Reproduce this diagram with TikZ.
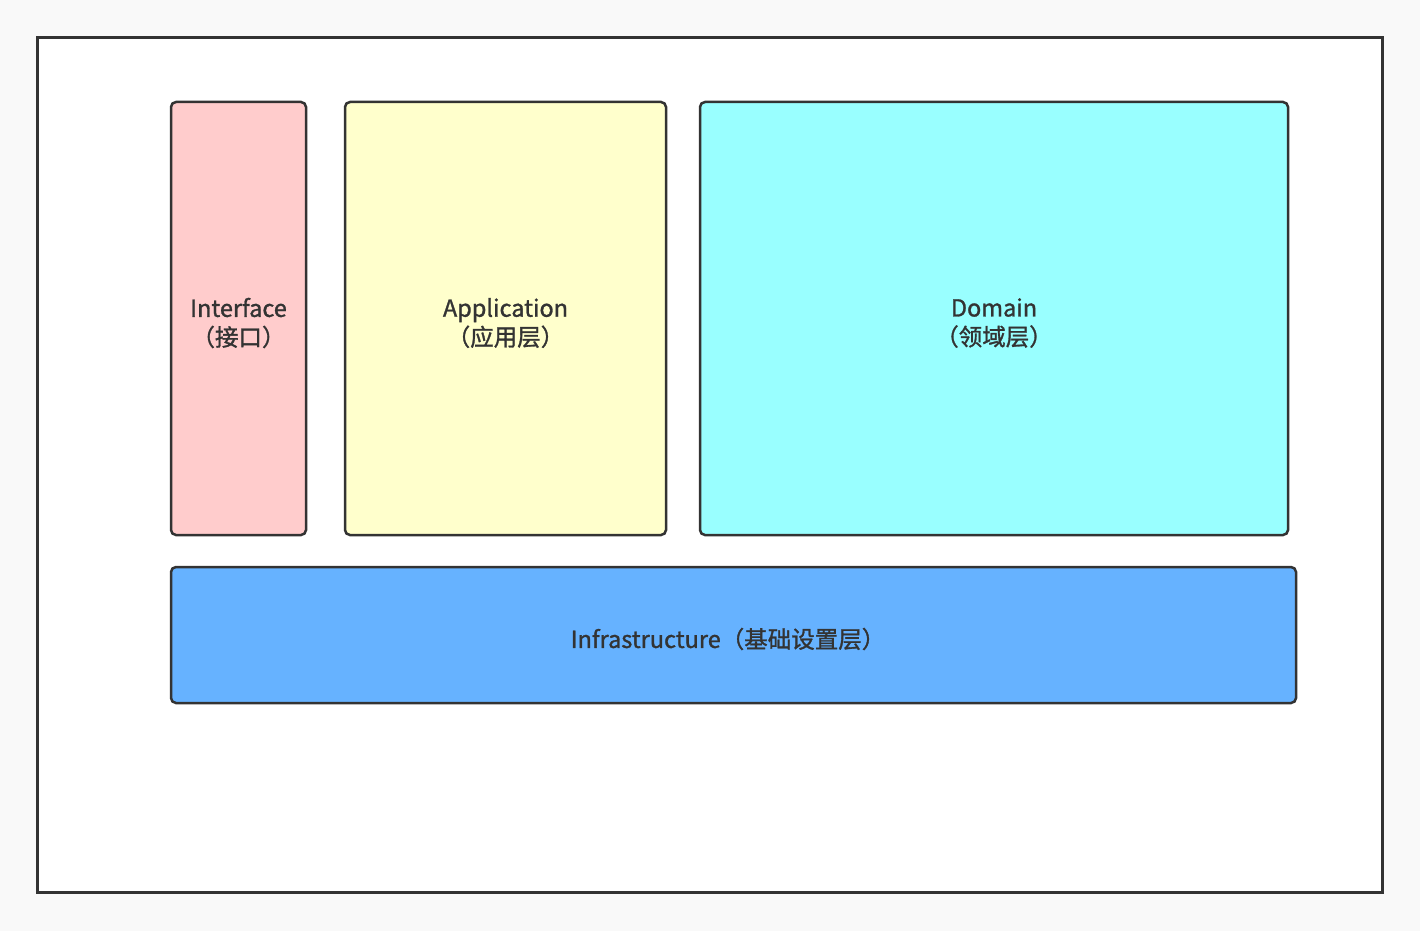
\documentclass[tikz,border=0pt]{standalone}
\usepackage{fontspec}
\setmainfont{Noto Sans CJK SC}
\newfontfamily\lblfont[FakeBold=1.2]{Noto Sans CJK SC}
\definecolor{bg}{HTML}{F9F9F9}
\definecolor{ln}{HTML}{333333}
\definecolor{cint}{HTML}{FFCCCC}
\definecolor{capp}{HTML}{FFFFCC}
\definecolor{cdom}{HTML}{99FFFF}
\definecolor{cinf}{HTML}{66B2FF}
\begin{document}
\begin{tikzpicture}[x=1pt,y=-1pt,
  layer/.style={draw=ln,line width=2.5pt,rounded corners=5pt},
  lbl/.style={text=ln,font=\lblfont\fontsize{23.5}{29}\selectfont,align=center,inner sep=0pt}]
\useasboundingbox (0,0) rectangle (1420,931);
\fill[bg] (0,0) rectangle (1420,931);
\draw[ln,fill=white,line width=3pt] (37.5,37.5) rectangle (1382.5,892.5);
\draw[layer,fill=cint] (171,102) rectangle (306,535);
\draw[layer,fill=capp] (345,102) rectangle (666,535);
\draw[layer,fill=cdom] (700,102) rectangle (1288,535);
\draw[layer,fill=cinf] (171,567) rectangle (1296,703);
\node[lbl] (int) at (238.5,323) {Interface\\（接口）};
\node[lbl] (app) at (505.5,323) {Application\\（应用层）};
\node[lbl] (dom) at (994,323) {Domain\\（领域层）};
\node[lbl] (inf) at (728,639) {Infrastructure（基础设置层）};
\end{tikzpicture}
\end{document}
